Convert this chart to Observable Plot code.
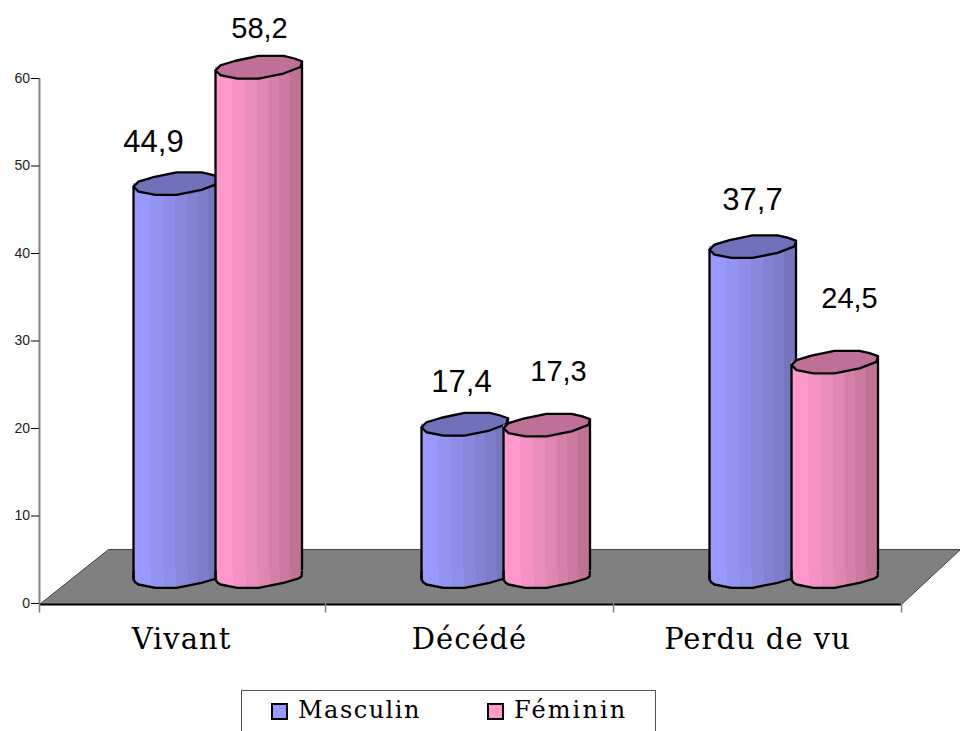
<!DOCTYPE html>
<html lang="fr">
<head>
<meta charset="utf-8">
<script src="https://cdn.jsdelivr.net/npm/d3@7"></script>
<script src="https://cdn.jsdelivr.net/npm/@observablehq/plot@0.6"></script>
<style>
html,body{margin:0;padding:0;background:#fff;overflow:hidden;height:731px}
#chart svg{display:block}
#chart [aria-label="x-axis tick label"]{letter-spacing:1px}
#legend{position:absolute;left:241px;top:690px;width:413px;height:60px;border:1px solid #555;box-sizing:content-box;
 font-family:"DejaVu Serif",serif;font-size:24px;color:#000}
#legend span{position:absolute;top:-1px;line-height:40px;white-space:nowrap}
#legend i{position:absolute;top:12px;width:13px;height:13px;border:2px solid #000;display:block}
</style>
</head>
<body>
<div id="chart"></div>
<div id="legend"></div>
<script>
const categories = ["Vivant", "Décédé", "Perdu de vu"];
const series = ["Masculin", "Féminin"];
const masculin = [44.9, 17.4, 37.7];
const feminin = [58.2, 17.3, 24.5];
const yTicks = [0, 10, 20, 30, 40, 50, 60];
const masculinStripes = ["#9999ff","#9393f2","#8e8ee8","#8888dc","#8282d2","#7c7cc8","#7575bd"];
const femininStripes = ["#ff99cc","#f592c3","#ea8cb9","#e086b0","#d680a8","#cb799f","#bf7296"];
const masculinCap = "#7171bb";
const femininCap = "#bf7096";
const stripeStops = [0, 0.2, 0.35, 0.49, 0.63, 0.75, 0.87, 1];

// Outline of the cylinder cross-section, relative to its centre.
const capOutline = [[-43,3],[-38,-2],[-23,-6.5],[0,-11.3],[25,-11.3],[35,-9],[43.5,-6],[42,-0.3],[25,6.3],[0,11.3],[-21,11.3],[-38,8]];
const baseOutline = [[-43,-6],[-43,3],[-41,6],[-38,8],[-21,11.3],[0,11.3],[25,6.3],[40,2],[43,0],[43.5,-6]];
const floorOutline = [[-430,1],[432,1],[491,-54],[-361,-54]];
const outlineSymbol = (pts, close) => ({draw(c){
  pts.forEach(([x,y],i) => i ? c.lineTo(x,y) : c.moveTo(x,y));
  if (close) c.closePath();
}});

const rows = s => categories.map((category,i) => ({category, value:(s===0?masculin:feminin)[i]}));
const depth = -27;

const gradientDefs = () => {
  const defs = d3.create("svg:defs");
  [["gradM",masculinStripes],["gradF",femininStripes]].forEach(([id,cols]) => {
    const g = defs.append("linearGradient").attr("id",id).attr("x1",0).attr("x2",1).attr("y1",0).attr("y2",0);
    cols.forEach((col,i) => {
      g.append("stop").attr("offset",stripeStops[i]).attr("stop-color",col);
      g.append("stop").attr("offset",stripeStops[i+1]).attr("stop-color",col);
    });
  });
  return defs.node();
};

const cylinder = (data, o) => {
  const common = {x:"category", stroke:"#000", strokeWidth:2.3, strokeLinejoin:"round"};
  return [
    Plot.barY(data, {x:"category", y:"value", insetLeft:o.left, insetRight:o.right, dy:depth, fill:o.fill}),
    Plot.dot(data, {...common, y:() => 0, dx:o.dx, dy:depth, fill:o.fill, symbol:outlineSymbol(baseOutline,false)}),
    Plot.ruleX(data, {...common, y1:0, y2:"value", dx:o.dx-43, dy:depth+3}),
    Plot.ruleX(data, {...common, y1:0, y2:"value", dx:o.dx+43.5, dy:depth-6}),
    Plot.dot(data, {...common, y:"value", dx:o.dx, dy:depth, fill:o.cap, symbol:outlineSymbol(capOutline,true)})
  ];
};

// Hand placement of each value label, as in the reference.
const labelPlacement = [
  [[-28,-69],[-8,-69],[-5,-74]],
  [[78,-66],[89,-80],[92,-90]]
];
const valueLabels = s => rows(s).map((r,i) => Plot.text([r], {
  x:"category", y:"value", text:d => String(d.value).replace(".", ","),
  dx:labelPlacement[s][i][0], dy:labelPlacement[s][i][1],
  fontSize:s===0?31:29, fontFamily:"Liberation Sans, Helvetica, Arial, sans-serif", fill:"#000"
}));

const chart = Plot.plot({
  width:960, height:690,
  marginLeft:37, marginRight:59, marginTop:78, marginBottom:87,
  style:{background:"#fff", overflow:"visible"},
  x:{type:"band", domain:categories, padding:0, label:null},
  y:{domain:[0,60], label:null},
  marks:[
    gradientDefs,
    Plot.dot([categories[1]], {x:d=>d, y:()=>0, fill:"#808080", stroke:"#444", strokeWidth:1, symbol:outlineSymbol(floorOutline,true)}),
    Plot.ruleX([categories[0]], {x:d=>d, y1:0, y2:60, dx:-142, stroke:"#808080", strokeWidth:2}),
    Plot.ruleY([0], {dy:1, insetLeft:2, stroke:"#000", strokeWidth:2}),
    Plot.ruleX(categories, {x:d=>d, y1:0, y2:-1.1, dx:-144, stroke:"#808080", strokeWidth:1.5, filter:(d,i)=>i>0}),
    Plot.ruleX([categories[0]], {x:d=>d, y1:0, y2:-1.1, dx:-142, stroke:"#808080", strokeWidth:1.5}),
    Plot.ruleX([categories[2]], {x:d=>d, y1:0, y2:-1.1, dx:144, stroke:"#808080", strokeWidth:1.5}),
    Plot.axisY({ticks:yTicks, tickSize:8, tickPadding:1.5, dx:2, fontSize:14, label:null, fontFamily:"Liberation Sans, Helvetica, Arial, sans-serif", fill:"#222"}),
    Plot.axisX({tickSize:0, tickPadding:25, fontSize:29, label:null, fontFamily:"DejaVu Serif, serif", fill:"#000"}),
    ...cylinder(rows(0), {left:96, right:106, dx:-5, fill:"url(#gradM)", cap:masculinCap}),
    ...cylinder(rows(1), {left:178, right:24, dx:77, fill:"url(#gradF)", cap:femininCap}),
    ...valueLabels(0),
    ...valueLabels(1)
  ]
});
document.getElementById("chart").append(chart);

const legend = d3.select("#legend");
const legendItems = [[series[0],masculinStripes[0],29,56,1.5],[series[1],femininStripes[0],245,272,2.1]];
legendItems.forEach(([name,col,sx,tx,ls]) => {
  legend.append("i").style("left",sx+"px").style("background",col);
  legend.append("span").style("left",tx+"px").style("letter-spacing",ls+"px").text(name);
});
</script>
</body>
</html>
